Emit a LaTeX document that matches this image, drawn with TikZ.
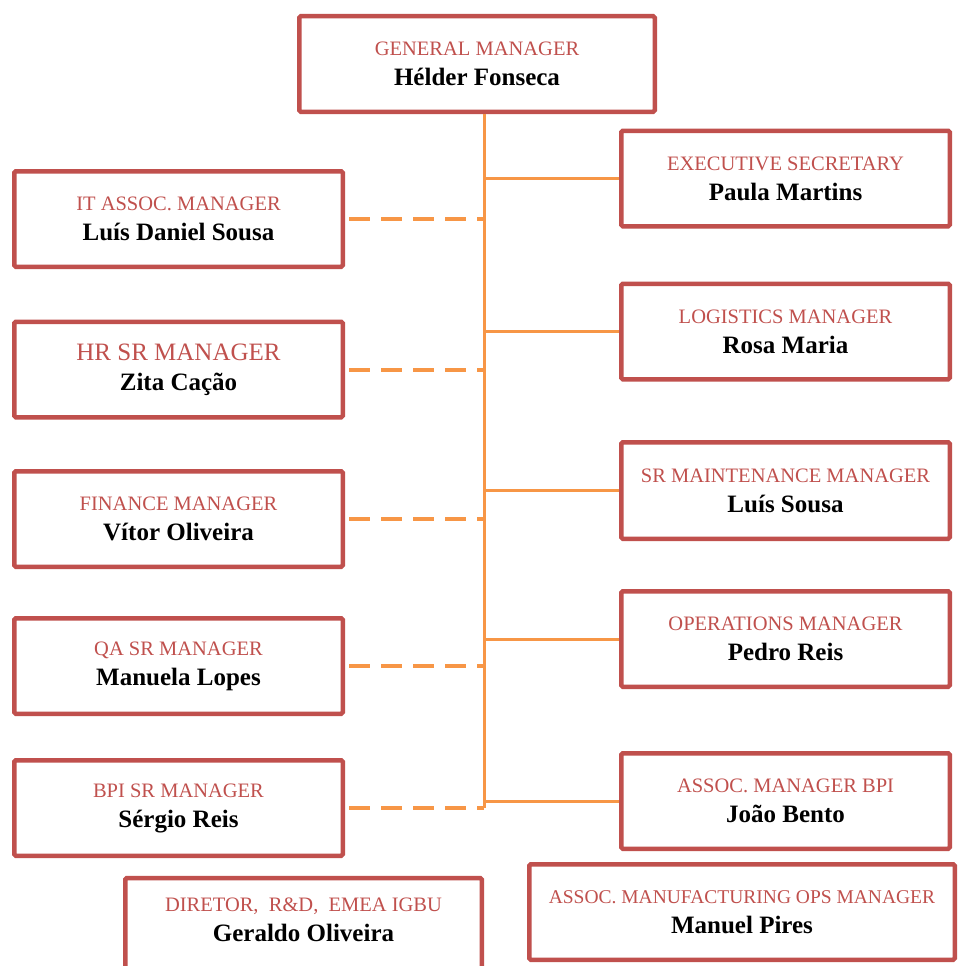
\documentclass[tikz,border=0pt]{standalone}
\usepackage{fontspec}
\setmainfont{Liberation Serif}
\definecolor{boxred}{HTML}{C0504D}
\definecolor{lineorange}{HTML}{F79646}
\newcommand{\roletext}[3][20.5]{{\fontsize{#1}{30}\selectfont\color{boxred}#2}\\{\bfseries #3}}
\tikzset{
  rolebox/.style={draw=boxred, line width=4.5pt, rounded corners=1.5pt, fill=white,
    inner sep=0pt, align=center, font=\fontsize{25}{30}\selectfont},
  smallbox/.style={rolebox, minimum width=328.5pt, minimum height=95.5pt},
  solidlink/.style={draw=lineorange, line width=3pt},
  dashlink/.style={draw=lineorange, line width=4pt, dash pattern=on 21pt off 11pt, dash phase=-4pt}
}
\begin{document}
\begin{tikzpicture}[x=1pt,y=-1pt]
\path[use as bounding box, clip] (0,0) rectangle (959,966);
\fill[white] (0,0) rectangle (959,966);
% boxes
\node[rolebox, minimum width=355.5pt, minimum height=95.5pt] (gm) at (477,64) {\roletext{GENERAL MANAGER}{Hélder Fonseca}};
\node[smallbox] (es) at (785.5,178.5) {\roletext{EXECUTIVE SECRETARY}{Paula Martins}};
\node[smallbox] (it) at (178.5,219) {\roletext{IT ASSOC. MANAGER}{Luís Daniel Sousa}};
\node[smallbox] (log) at (785.5,331.5) {\roletext{LOGISTICS MANAGER}{Rosa Maria}};
\node[smallbox] (hr) at (178.5,369.5) {\roletext[25]{HR SR MANAGER}{Zita Cação}};
\node[smallbox, minimum height=96.5pt] (mnt) at (785.5,490.5) {\roletext{SR MAINTENANCE MANAGER}{Luís Sousa}};
\node[smallbox] (fin) at (178.5,519) {\roletext{FINANCE MANAGER}{Vítor Oliveira}};
\node[smallbox] (ops) at (785.5,639) {\roletext{OPERATIONS MANAGER}{Pedro Reis}};
\node[smallbox] (qa) at (178.5,666) {\roletext{QA SR MANAGER}{Manuela Lopes}};
\node[smallbox] (abpi) at (785.5,801) {\roletext{ASSOC. MANAGER BPI}{João Bento}};
\node[smallbox] (bpi) at (178.5,808) {\roletext{BPI SR MANAGER}{Sérgio Reis}};
\node[rolebox, minimum width=356.5pt, minimum height=120pt] (dir) at (303.5,938) {};
\node[inner sep=0pt, align=center, font=\fontsize{25}{30}\selectfont] (dirtext) at (303.5,920) {\roletext{DIRETOR,\ \ R\&D,\ \ EMEA IGBU}{Geraldo Oliveira}};
\node[rolebox, minimum width=425.5pt, minimum height=95.5pt] (mp) at (742,912) {\roletext[19.5]{ASSOC. MANUFACTURING OPS MANAGER}{Manuel Pires}};
% trunk
\coordinate (trunkend) at (484,808);
\draw[solidlink] (gm.south -| trunkend) -- (trunkend);
% right solid links
\foreach \n in {es,log,mnt,ops,abpi}
  \draw[solidlink] (\n.west -| trunkend) -- (\n.west);
% left dashed links
\foreach \n in {it,hr,fin,qa,bpi}
  \draw[dashlink] (\n.east) -- (\n.east -| trunkend);
\end{tikzpicture}
\end{document}
